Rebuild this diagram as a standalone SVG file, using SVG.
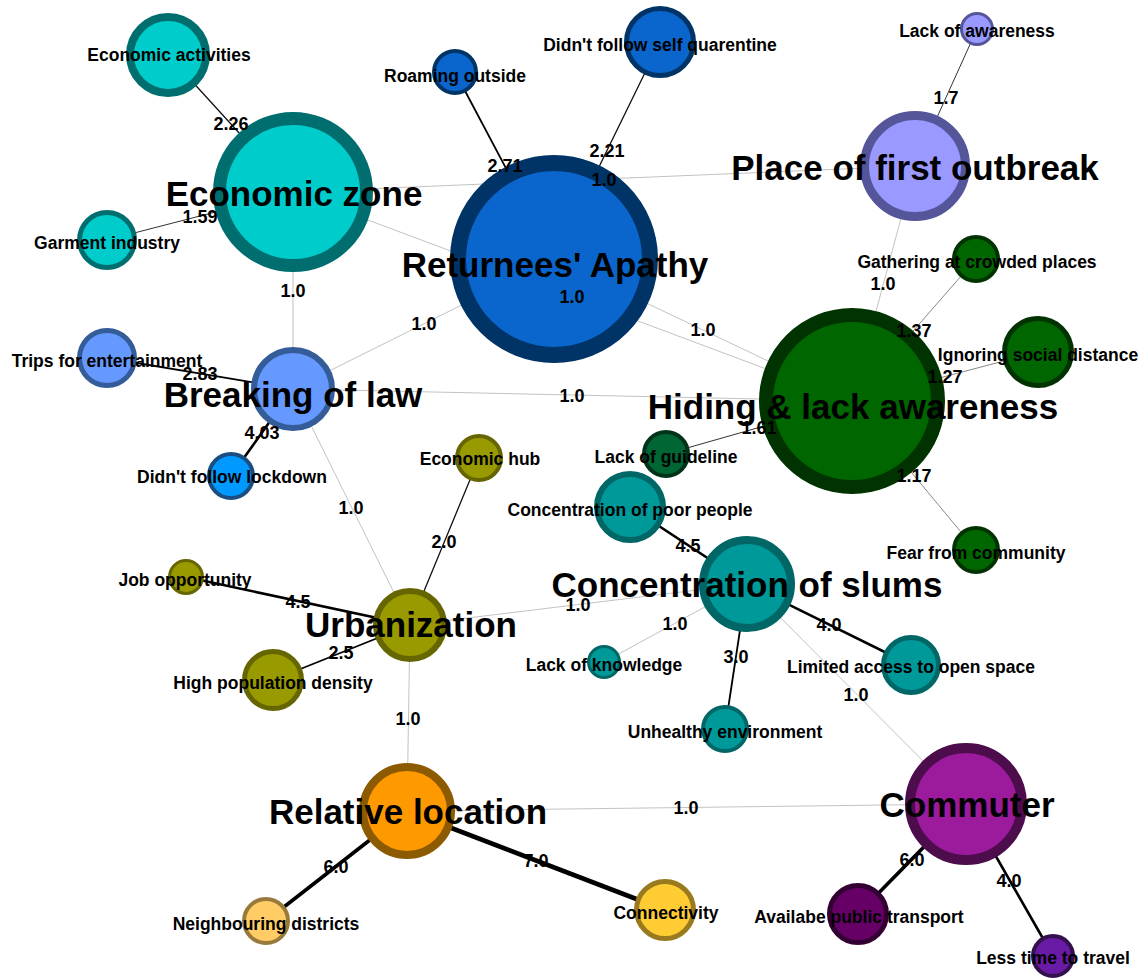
<svg xmlns="http://www.w3.org/2000/svg" width="1144" height="980" viewBox="0 0 1144 980">
<style>
.bg{fill:#ffffff}
line{stroke-linecap:round}
.w1{stroke:#a8a8a8;stroke-width:0.7}
.w12{stroke:#6a6a6a;stroke-width:0.8}
.w16{stroke:#333;stroke-width:1}
.w2{stroke:#111;stroke-width:1.3}
.w27{stroke:#000;stroke-width:1.8}
.w4{stroke:#000;stroke-width:2.6}
.w6{stroke:#000;stroke-width:3.6}
.w7{stroke:#000;stroke-width:4.6}
.cyan{fill:#00cccc;stroke:#006e6e}
.blue{fill:#0a66cc;stroke:#003366}
.lblue{fill:#6699ff;stroke:#335c99}
.sky{fill:#0099ff;stroke:#1a4d80}
.peri{fill:#9999ff;stroke:#555599}
.green{fill:#006600;stroke:#003300}
.green2{fill:#006633;stroke:#00331a}
.teal{fill:#009999;stroke:#006666}
.olive{fill:#999900;stroke:#666600}
.orange{fill:#ff9900;stroke:#8c5a00}
.lorange{fill:#ffcc66;stroke:#997a3d}
.yellow{fill:#ffcc33;stroke:#997a1f}
.magenta{fill:#9c1a9c;stroke:#4d0d4d}
.dpurple{fill:#660066;stroke:#330033}
.violet{fill:#6a1ba6;stroke:#33114d}
text{font-family:"Liberation Sans",Arial,sans-serif;font-weight:bold;fill:#000;text-anchor:middle}
.big{font-size:35px}
.small{font-size:17.5px}
.el{font-size:18px}
</style>
<rect class="bg" x="0" y="0" width="1144" height="980"/>
<g id="connectors">
<line class="w2" x1="168" y1="55" x2="293" y2="192"/>
<line class="w16" x1="107" y1="240" x2="293" y2="192"/>
<line class="w1" x1="293" y1="192" x2="915" y2="166"/>
<line class="w27" x1="455" y1="72" x2="554" y2="259"/>
<line class="w2" x1="660" y1="42" x2="554" y2="259"/>
<line class="w1" x1="293" y1="192" x2="293" y2="389"/>
<line class="w1" x1="293" y1="389" x2="554" y2="259"/>
<line class="w1" x1="293" y1="192" x2="852" y2="401"/>
<line class="w1" x1="554" y1="259" x2="852" y2="401"/>
<line class="w16" x1="977" y1="29" x2="915" y2="166"/>
<line class="w1" x1="915" y1="166" x2="852" y2="401"/>
<line class="w12" x1="976" y1="259" x2="852" y2="401"/>
<line class="w12" x1="1038" y1="352" x2="852" y2="401"/>
<line class="w16" x1="666" y1="454" x2="852" y2="401"/>
<line class="w12" x1="976" y1="550" x2="852" y2="401"/>
<line class="w1" x1="293" y1="389" x2="852" y2="401"/>
<line class="w27" x1="107" y1="358" x2="293" y2="389"/>
<line class="w4" x1="231" y1="476" x2="293" y2="389"/>
<line class="w1" x1="293" y1="389" x2="410" y2="625"/>
<line class="w2" x1="479" y1="458" x2="410" y2="625"/>
<line class="w4" x1="186" y1="577" x2="410" y2="625"/>
<line class="w27" x1="273" y1="680" x2="410" y2="625"/>
<line class="w1" x1="410" y1="625" x2="747" y2="584"/>
<line class="w4" x1="630" y1="507" x2="747" y2="584"/>
<line class="w1" x1="604" y1="662" x2="747" y2="584"/>
<line class="w27" x1="725" y1="729" x2="747" y2="584"/>
<line class="w4" x1="911" y1="665" x2="747" y2="584"/>
<line class="w1" x1="747" y1="584" x2="966" y2="804"/>
<line class="w1" x1="410" y1="625" x2="407" y2="811"/>
<line class="w1" x1="407" y1="811" x2="966" y2="804"/>
<line class="w6" x1="266" y1="921" x2="407" y2="811"/>
<line class="w7" x1="665" y1="910" x2="407" y2="811"/>
<line class="w6" x1="858" y1="914" x2="966" y2="804"/>
<line class="w4" x1="1053" y1="956" x2="966" y2="804"/>
</g>
<g id="node-economic-activities"><circle class="cyan" cx="168" cy="55" r="38" stroke-width="8"/><text class="small" x="169" y="61">Economic activities</text></g>
<g id="node-economic-zone"><circle class="cyan" cx="293" cy="192" r="73.5" stroke-width="13"/><text class="big" x="294" y="206">Economic zone</text></g>
<g id="node-garment-industry"><circle class="cyan" cx="107" cy="240" r="27.5" stroke-width="5"/><text class="small" x="107" y="249">Garment industry</text></g>
<g id="node-roaming-outside"><circle class="blue" cx="455" cy="72" r="21" stroke-width="4"/><text class="small" x="455" y="82">Roaming outside</text></g>
<g id="node-self-quarentine"><circle class="blue" cx="660" cy="42" r="33.5" stroke-width="5"/><text class="small" x="660" y="51">Didn't follow self quarentine</text></g>
<g id="node-returnees-apathy"><circle class="blue" cx="554" cy="259" r="96" stroke-width="16"/><text class="big" x="555" y="277">Returnees' Apathy</text></g>
<g id="node-place-first-outbreak"><circle class="peri" cx="915" cy="166" r="50.5" stroke-width="9"/><text class="big" x="915" y="180">Place of first outbreak</text></g>
<g id="node-lack-awareness"><circle class="peri" cx="977" cy="29" r="15.5" stroke-width="3"/><text class="small" x="977" y="37">Lack of awareness</text></g>
<g id="node-gathering"><circle class="green" cx="976" cy="259" r="22" stroke-width="4"/><text class="small" x="977" y="268">Gathering at crowded places</text></g>
<g id="node-ignoring-distance"><circle class="green" cx="1038" cy="352" r="33.5" stroke-width="5"/><text class="small" x="1038" y="361">Ignoring social distance</text></g>
<g id="node-hiding"><circle class="green" cx="852" cy="401" r="86" stroke-width="14"/><text class="big" x="853" y="419">Hiding &amp; lack awareness</text></g>
<g id="node-fear-community"><circle class="green" cx="976" cy="550" r="22" stroke-width="4"/><text class="small" x="976" y="559">Fear from community</text></g>
<g id="node-lack-guideline"><circle class="green2" cx="666" cy="454" r="22" stroke-width="4"/><text class="small" x="666" y="463">Lack of guideline</text></g>
<g id="node-poor-people"><circle class="teal" cx="630" cy="507" r="33" stroke-width="6"/><text class="small" x="630" y="516">Concentration of poor people</text></g>
<g id="node-slums"><circle class="teal" cx="747" cy="584" r="44" stroke-width="8"/><text class="big" x="747" y="597">Concentration of slums</text></g>
<g id="node-lack-knowledge"><circle class="teal" cx="604" cy="662" r="15.5" stroke-width="3"/><text class="small" x="604" y="671">Lack of knowledge</text></g>
<g id="node-unhealthy-environment"><circle class="teal" cx="725" cy="729" r="22" stroke-width="4"/><text class="small" x="725" y="738">Unhealthy environment</text></g>
<g id="node-open-space"><circle class="teal" cx="911" cy="665" r="27.5" stroke-width="5"/><text class="small" x="911" y="673">Limited access to open space</text></g>
<g id="node-economic-hub"><circle class="olive" cx="479" cy="458" r="22" stroke-width="4"/><text class="small" x="480" y="465">Economic hub</text></g>
<g id="node-breaking-law"><circle class="lblue" cx="293" cy="389" r="39" stroke-width="6"/><text class="big" x="293" y="407">Breaking of law</text></g>
<g id="node-trips"><circle class="lblue" cx="107" cy="358" r="27.5" stroke-width="5"/><text class="small" x="107" y="367">Trips for entertainment</text></g>
<g id="node-lockdown"><circle class="sky" cx="231" cy="476" r="22" stroke-width="4"/><text class="small" x="232" y="483">Didn't follow lockdown</text></g>
<g id="node-job-opportunity"><circle class="olive" cx="186" cy="577" r="16.5" stroke-width="3"/><text class="small" x="185" y="586">Job opportunity</text></g>
<g id="node-urbanization"><circle class="olive" cx="410" cy="625" r="34" stroke-width="6"/><text class="big" x="411" y="637">Urbanization</text></g>
<g id="node-population-density"><circle class="olive" cx="273" cy="680" r="28.5" stroke-width="5"/><text class="small" x="273" y="689">High population density</text></g>
<g id="node-relative-location"><circle class="orange" cx="407" cy="811" r="44" stroke-width="8"/><text class="big" x="408" y="824">Relative location</text></g>
<g id="node-neighbouring"><circle class="lorange" cx="266" cy="921" r="22" stroke-width="4"/><text class="small" x="266" y="930">Neighbouring districts</text></g>
<g id="node-connectivity"><circle class="yellow" cx="665" cy="910" r="28.5" stroke-width="5"/><text class="small" x="666" y="919">Connectivity</text></g>
<g id="node-commuter"><circle class="magenta" cx="966" cy="804" r="56" stroke-width="10"/><text class="big" x="967" y="817">Commuter</text></g>
<g id="node-public-transport"><circle class="dpurple" cx="858" cy="914" r="28.5" stroke-width="5"/><text class="small" x="859" y="923">Availabe public transport</text></g>
<g id="node-less-time"><circle class="violet" cx="1053" cy="956" r="20" stroke-width="4"/><text class="small" x="1053" y="964">Less time to travel</text></g>
<g id="edge-labels">
<text class="el" x="231" y="130">2.26</text>
<text class="el" x="200" y="222.5">1.59</text>
<text class="el" x="604" y="185.5">1.0</text>
<text class="el" x="505" y="171.5">2.71</text>
<text class="el" x="607" y="156.5">2.21</text>
<text class="el" x="293" y="297">1.0</text>
<text class="el" x="424" y="330">1.0</text>
<text class="el" x="572" y="303">1.0</text>
<text class="el" x="703" y="336">1.0</text>
<text class="el" x="946" y="104">1.7</text>
<text class="el" x="883" y="290">1.0</text>
<text class="el" x="914" y="336.5">1.37</text>
<text class="el" x="945" y="383">1.27</text>
<text class="el" x="759" y="434">1.61</text>
<text class="el" x="914" y="482">1.17</text>
<text class="el" x="572" y="401.5">1.0</text>
<text class="el" x="200" y="380">2.83</text>
<text class="el" x="262" y="439">4.03</text>
<text class="el" x="351" y="513.5">1.0</text>
<text class="el" x="444" y="548">2.0</text>
<text class="el" x="298" y="607.5">4.5</text>
<text class="el" x="341" y="659">2.5</text>
<text class="el" x="578" y="611">1.0</text>
<text class="el" x="688" y="552">4.5</text>
<text class="el" x="675" y="629.5">1.0</text>
<text class="el" x="736" y="663">3.0</text>
<text class="el" x="829" y="631">4.0</text>
<text class="el" x="856" y="700.5">1.0</text>
<text class="el" x="408" y="724.5">1.0</text>
<text class="el" x="686" y="814">1.0</text>
<text class="el" x="336" y="872.5">6.0</text>
<text class="el" x="536" y="867">7.0</text>
<text class="el" x="912" y="865.5">6.0</text>
<text class="el" x="1009" y="886.5">4.0</text>
</g>
</svg>
